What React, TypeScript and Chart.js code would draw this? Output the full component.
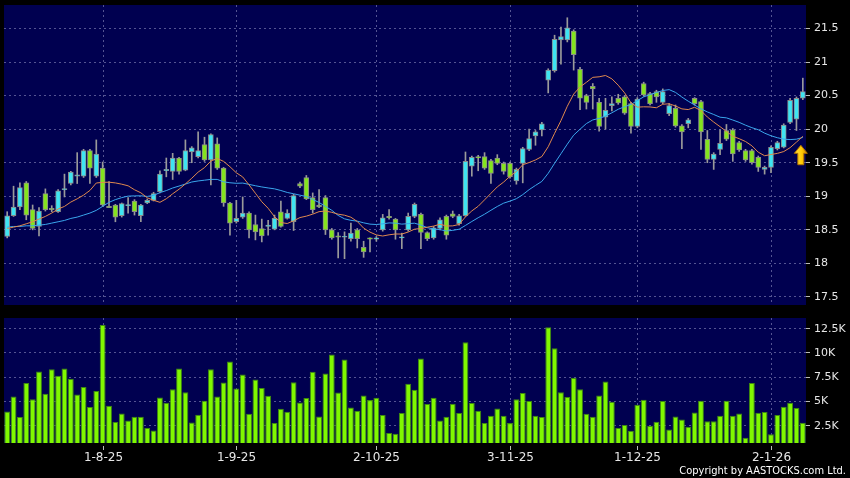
import React, { useEffect, useRef } from "react";
import { Chart, registerables } from "chart.js";

Chart.register(...registerables);

// ---------- data ----------
const opens = [
  18.40, 18.71, 18.84, 19.20, 18.80, 18.55, 19.04, 18.82, 18.77, 19.10,
  19.19, 19.30, 19.30, 19.68, 19.30, 19.42, 18.85, 18.87, 18.71, 18.86,
  18.93, 18.71, 18.90, 18.94, 19.07, 19.38, 19.37, 19.57, 19.39, 19.66,
  19.59, 19.77, 19.54, 19.78, 19.42, 18.90, 18.62, 18.69, 18.75, 18.58,
  18.52, 18.55, 18.51, 18.77, 18.67, 18.62, 19.19, 19.28, 18.98, 18.87,
  18.98, 18.50, 18.41, 18.39, 18.37, 18.50, 18.24, 18.38, 18.36, 18.50,
  18.70, 18.66, 18.38, 18.50, 18.70, 18.73, 18.46, 18.38, 18.52, 18.70,
  18.74, 18.59, 18.71, 19.45, 19.59, 19.59, 19.53, 19.57, 19.49, 19.49,
  19.23, 19.49, 19.70, 19.90, 19.99, 20.73, 20.87, 21.33, 21.33, 21.46,
  20.89, 20.50, 20.64, 20.40, 20.18, 20.35, 20.46, 20.48, 20.38, 20.04,
  20.68, 20.53, 20.56, 20.40, 20.23, 20.31, 20.05, 20.08, 20.46, 20.41,
  19.85, 19.55, 19.70, 19.98, 19.99, 19.80, 19.68, 19.68, 19.58, 19.40,
  19.43, 19.71, 19.73, 20.10, 20.15, 20.46,
];
const closes = [
  18.71, 18.84, 19.13, 18.72, 18.52, 18.78, 18.80, 18.80, 19.08, 19.11,
  19.36, 19.32, 19.68, 19.42, 19.63, 18.87, 18.83, 18.69, 18.89, 18.87,
  18.77, 18.87, 18.94, 19.04, 19.33, 19.40, 19.57, 19.37, 19.68, 19.72,
  19.68, 19.54, 19.92, 19.42, 18.90, 18.60, 18.67, 18.75, 18.50, 18.47,
  18.41, 18.57, 18.67, 18.55, 18.75, 19.01, 19.15, 18.96, 18.80, 18.84,
  18.50, 18.38, 18.39, 18.40, 18.45, 18.37, 18.17, 18.36, 18.38, 18.68,
  18.68, 18.50, 18.38, 18.70, 18.88, 18.46, 18.37, 18.53, 18.65, 18.42,
  18.70, 18.71, 19.52, 19.58, 19.57, 19.42, 19.34, 19.49, 19.37, 19.29,
  19.40, 19.71, 19.86, 19.96, 20.08, 20.88, 21.34, 21.38, 21.51, 21.11,
  20.46, 20.40, 20.60, 20.04, 20.28, 20.38, 20.39, 20.24, 20.04, 20.45,
  20.51, 20.38, 20.48, 20.56, 20.35, 20.05, 19.96, 20.14, 20.38, 19.96,
  19.55, 19.63, 19.79, 19.85, 19.63, 19.69, 19.54, 19.50, 19.43, 19.43,
  19.73, 19.80, 20.06, 20.43, 20.46, 20.56,
];
const highs = [
  18.77, 19.15, 19.20, 19.22, 18.87, 18.83, 19.11, 18.86, 19.10, 19.33,
  19.37, 19.65, 19.70, 19.70, 19.84, 19.51, 19.22, 18.88, 18.90, 18.98,
  18.95, 18.88, 18.96, 19.06, 19.38, 19.57, 19.64, 19.58, 19.84, 19.74,
  19.96, 19.88, 19.93, 19.87, 19.43, 18.91, 18.94, 18.99, 18.77, 18.72,
  18.66, 18.64, 18.72, 18.93, 18.80, 19.03, 19.21, 19.31, 19.05, 19.10,
  19.01, 18.52, 18.46, 18.47, 18.60, 18.52, 18.33, 18.38, 18.40, 18.73,
  18.80, 18.67, 18.45, 18.75, 18.90, 18.75, 18.47, 18.55, 18.68, 18.72,
  18.78, 18.73, 19.66, 19.60, 19.61, 19.65, 19.55, 19.62, 19.51, 19.51,
  19.42, 19.73, 20.00, 19.98, 20.10, 20.90, 21.40, 21.52, 21.66, 21.48,
  20.92, 20.52, 20.68, 20.46, 20.46, 20.48, 20.52, 20.50, 20.40, 20.47,
  20.70, 20.55, 20.58, 20.60, 20.38, 20.36, 20.07, 20.16, 20.47, 20.43,
  19.98, 19.65, 19.99, 20.07, 20.01, 19.82, 19.70, 19.70, 19.60, 19.45,
  19.75, 19.82, 20.08, 20.46, 20.48, 20.76,
];
const lows = [
  18.38, 18.70, 18.80, 18.65, 18.50, 18.41, 18.78, 18.77, 18.76, 18.99,
  19.17, 19.19, 19.28, 19.19, 19.28, 18.85, 18.83, 18.62, 18.69, 18.75,
  18.72, 18.62, 18.89, 18.93, 19.05, 19.29, 19.25, 19.33, 19.38, 19.50,
  19.57, 19.52, 19.17, 19.40, 18.85, 18.42, 18.60, 18.67, 18.38, 18.35,
  18.32, 18.42, 18.50, 18.54, 18.66, 18.49, 19.13, 18.95, 18.75, 18.83,
  18.43, 18.36, 18.08, 18.07, 18.33, 18.23, 18.09, 18.17, 18.33, 18.48,
  18.66, 18.36, 18.22, 18.48, 18.68, 18.22, 18.34, 18.36, 18.50, 18.36,
  18.68, 18.57, 18.70, 19.30, 19.38, 19.40, 19.19, 19.47, 19.33, 19.27,
  19.18, 19.20, 19.68, 19.76, 19.90, 20.54, 20.85, 20.97, 21.30, 20.88,
  20.29, 20.30, 20.30, 19.97, 20.00, 20.27, 20.37, 20.22, 19.94, 20.02,
  20.49, 20.36, 20.40, 20.38, 20.20, 20.03, 19.71, 20.02, 20.36, 19.70,
  19.50, 19.40, 19.62, 19.83, 19.52, 19.67, 19.52, 19.48, 19.37, 19.33,
  19.35, 19.69, 19.72, 20.08, 19.98, 20.44,
];
// volume in thousands of shares
const volumesK = [
  3.97, 5.52, 3.39, 6.89, 5.24, 8.09, 5.79, 8.33, 7.64, 8.40,
  7.34, 5.72, 6.48, 4.42, 6.07, 12.89, 4.56, 2.88, 3.77, 3.05,
  3.43, 3.43, 2.26, 2.02, 5.41, 4.87, 6.27, 8.40, 5.96, 2.84,
  3.63, 5.07, 8.33, 5.52, 6.96, 9.12, 6.34, 7.78, 3.73, 7.27,
  6.38, 5.59, 2.77, 4.25, 3.94, 6.99, 4.90, 5.35, 8.06, 3.46,
  7.88, 9.84, 5.93, 9.32, 4.39, 4.04, 5.62, 5.14, 5.38, 3.60,
  1.75, 1.68, 3.80, 6.82, 6.20, 9.43, 4.73, 5.38, 3.05, 3.43,
  4.76, 3.80, 11.11, 4.83, 4.04, 2.77, 3.53, 4.28, 3.53, 2.77,
  5.24, 5.86, 5.04, 3.53, 3.39, 12.65, 10.49, 5.96, 5.45, 7.44,
  6.27, 3.73, 3.43, 5.62, 7.06, 4.97, 2.26, 2.57, 1.99, 4.66,
  5.17, 2.50, 2.91, 5.04, 2.12, 3.46, 3.15, 2.40, 3.87, 5.07,
  2.95, 2.95, 3.53, 5.07, 3.53, 3.77, 1.27, 6.89, 3.84, 3.91,
  1.61, 3.60, 4.45, 4.87, 4.32, 2.81,
];
// moving-average values at the left edge (history before the window)
const ma10Lead = [18.52, 18.54, 18.56, 18.59, 18.62, 18.66, 18.70, 18.75, 18.81];
const ma20Lead = [
  18.54, 18.55, 18.55, 18.56, 18.56, 18.57, 18.58, 18.60, 18.62, 18.64,
  18.67, 18.69, 18.72, 18.75, 18.79, 18.85, 18.91, 18.95, 18.98,
];
const dateTickIndex = [15, 36, 58, 79, 99, 120];
const dateTickLabels = ["1-8-25", "1-9-25", "2-10-25", "3-11-25", "1-12-25", "2-1-26"];
const priceTicks = [17.5, 18, 18.5, 19, 19.5, 20, 20.5, 21, 21.5];
const volumeTicks = [2500, 5000, 7500, 10000, 12500];
const arrowIndex = 125;
const arrowTip = 19.76;
const arrowNeck = 19.64;
const arrowTail = 19.47;

// ---------- styles ----------
const PANEL = "#000050";
const GRID = "rgba(140,140,190,0.6)";
const UP = "#3ee4f2";
const DOWN = "#84e41e";
const TEXT = "#e6e6e6";
const FONT = "DejaVu Sans";

function movingAverage(period: number, lead: number[]) {
  return closes.map((_, i) => {
    if (i < period - 1) return lead[i];
    let s = 0;
    for (let k = i - period + 1; k <= i; k++) s += closes[k];
    return s / period;
  });
}

const backgroundPlugin = {
  id: "bg",
  beforeDraw(chart: any) {
    const { ctx, chartArea } = chart;
    ctx.save();
    ctx.fillStyle = "#000000";
    ctx.fillRect(0, 0, chart.width, chart.height);
    ctx.fillStyle = PANEL;
    ctx.fillRect(chartArea.left, chartArea.top, chartArea.right - chartArea.left, chartArea.bottom - chartArea.top);
    ctx.restore();
  },
};

const vGridPlugin = {
  id: "vgrid",
  beforeDatasetsDraw(chart: any) {
    const { ctx, chartArea } = chart;
    const xs = chart.scales.x;
    ctx.save();
    ctx.strokeStyle = GRID;
    ctx.lineWidth = 1;
    ctx.setLineDash([2, 3]);
    dateTickIndex.forEach((idx) => {
      const x = Math.round(xs.getPixelForValue(idx)) + 0.5;
      ctx.beginPath();
      ctx.moveTo(x, chartArea.top);
      ctx.lineTo(x, chartArea.bottom);
      ctx.stroke();
    });
    ctx.restore();
  },
};

const arrowPlugin = {
  id: "arrow",
  afterDatasetsDraw(chart: any) {
    const { ctx } = chart;
    const xs = chart.scales.x;
    const ys = chart.scales.y;
    const cx = xs.getPixelForValue(arrowIndex) - 2;
    const yt = ys.getPixelForValue(arrowTip);
    const yn = ys.getPixelForValue(arrowNeck);
    const yb = ys.getPixelForValue(arrowTail);
    ctx.save();
    const g = ctx.createLinearGradient(cx - 6, 0, cx + 6, 0);
    g.addColorStop(0, "#ffe040");
    g.addColorStop(0.6, "#ffc800");
    g.addColorStop(1, "#d08a00");
    ctx.fillStyle = g;
    ctx.strokeStyle = "#b07000";
    ctx.lineWidth = 1;
    ctx.beginPath();
    ctx.moveTo(cx, yt);
    ctx.lineTo(cx + 6.5, yn);
    ctx.lineTo(cx + 3, yn);
    ctx.lineTo(cx + 3, yb);
    ctx.lineTo(cx - 3, yb);
    ctx.lineTo(cx - 3, yn);
    ctx.lineTo(cx - 6.5, yn);
    ctx.closePath();
    ctx.fill();
    ctx.stroke();
    ctx.restore();
  },
};

const dateLabelPlugin = {
  id: "dates",
  afterDraw(chart: any) {
    const { ctx, chartArea } = chart;
    const xs = chart.scales.x;
    ctx.save();
    ctx.strokeStyle = "#bbbbbb";
    ctx.lineWidth = 1;
    ctx.fillStyle = TEXT;
    ctx.font = `12px "${FONT}"`;
    ctx.textAlign = "center";
    ctx.textBaseline = "middle";
    dateTickIndex.forEach((idx, k) => {
      const x = Math.round(xs.getPixelForValue(idx)) + 0.5;
      ctx.beginPath();
      ctx.moveTo(x, chartArea.bottom + 3);
      ctx.lineTo(x, chartArea.bottom + 7);
      ctx.stroke();
      ctx.fillText(dateTickLabels[k], x, chartArea.bottom + 15);
    });
    ctx.font = `11px "DejaVu Sans Condensed", "Liberation Sans", sans-serif`;
    ctx.textAlign = "right";
    ctx.fillStyle = "#ffffff";
    ctx.fillText("Copyright by AASTOCKS.com Ltd.", 846, chart.height - 7);
    ctx.restore();
  },
};

function rightAxis(min: number, max: number, tickValues: number[], fmt: (v: number) => string) {
  return {
    position: "right" as const,
    min,
    max,
    afterBuildTicks(scale: any) {
      scale.ticks = tickValues.map((v) => ({ value: v }));
    },
    afterFit(scale: any) {
      scale.width = 44;
      scale.paddingTop = 0;
      scale.paddingBottom = 0;
    },
    ticks: {
      color: TEXT,
      font: { family: FONT, size: 11 },
      padding: 4,
      callback: (v: any) => fmt(Number(v)),
    },
    grid: {
      color: GRID,
      drawTicks: true,
      tickLength: 4,
      tickColor: "#bbbbbb",
      tickBorderDash: [],
    },
    border: { display: false, dash: [2, 3] },
  };
}

export default function App() {
  const priceRef = useRef<HTMLCanvasElement | null>(null);
  const volRef = useRef<HTMLCanvasElement | null>(null);

  useEffect(() => {
    document.body.style.margin = "0";
    document.body.style.background = "#000";
    const labels = closes.map((_, i) => String(i));
    const ma10 = movingAverage(10, ma10Lead);
    const ma20 = movingAverage(20, ma20Lead);
    const bodyColors = closes.map((c, i) => (c >= opens[i] ? UP : DOWN));

    const price = new Chart(priceRef.current as HTMLCanvasElement, {
      type: "bar",
      data: {
        labels,
        datasets: [
          {
            type: "line",
            data: ma10,
            borderColor: "#e0894e",
            borderWidth: 1,
            pointRadius: 0,
            order: 0,
          } as any,
          {
            type: "line",
            data: ma20,
            borderColor: "#3aa6ec",
            borderWidth: 1,
            pointRadius: 0,
            order: 1,
          } as any,
          {
            data: opens.map((o, i) => [o, closes[i]]),
            backgroundColor: bodyColors,
            borderColor: "#8a8a8a",
            borderWidth: 1,
            borderSkipped: false,
            barThickness: 5,
            minBarLength: 1,
            grouped: false,
            order: 2,
          } as any,
          {
            data: lows.map((l, i) => [l, highs[i]]),
            backgroundColor: "#9a9a9a",
            borderWidth: 0,
            barThickness: 1,
            grouped: false,
            order: 3,
          } as any,
        ],
      },
      options: {
        responsive: false,
        animation: false,
        devicePixelRatio: 1,
        layout: { padding: { left: 4, top: 5, bottom: 5, right: 0 } },
        plugins: { legend: { display: false }, tooltip: { enabled: false } },
        scales: {
          x: { type: "category", display: false, offset: true },
          y: rightAxis(17.38, 21.85, priceTicks, (v) => String(v)) as any,
        },
      },
      plugins: [backgroundPlugin, vGridPlugin, arrowPlugin],
    });

    const volume = new Chart(volRef.current as HTMLCanvasElement, {
      type: "bar",
      data: {
        labels,
        datasets: [
          {
            data: volumesK.map((v) => v * 1000),
            backgroundColor: "#80f800",
            borderColor: "#3e8a10",
            borderWidth: 1,
            borderSkipped: false,
            barPercentage: 0.92,
            categoryPercentage: 1,
          } as any,
        ],
      },
      options: {
        responsive: false,
        animation: false,
        devicePixelRatio: 1,
        layout: { padding: { left: 4, top: 8, bottom: 35, right: 0 } },
        plugins: { legend: { display: false }, tooltip: { enabled: false } },
        scales: {
          x: { type: "category", display: false, offset: true },
          y: rightAxis(720, 13600, volumeTicks, (v) => `${v / 1000}K`) as any,
        },
      },
      plugins: [backgroundPlugin, vGridPlugin, dateLabelPlugin],
    });

    return () => {
      price.destroy();
      volume.destroy();
    };
  }, []);

  return (
    <div style={{ position: "relative", width: 850, height: 478, background: "#000", overflow: "hidden" }}>
      <canvas ref={priceRef} width={850} height={310} style={{ position: "absolute", left: 0, top: 0, width: 850, height: 310 }} />
      <canvas ref={volRef} width={850} height={168} style={{ position: "absolute", left: 0, top: 310, width: 850, height: 168 }} />
    </div>
  );
}
